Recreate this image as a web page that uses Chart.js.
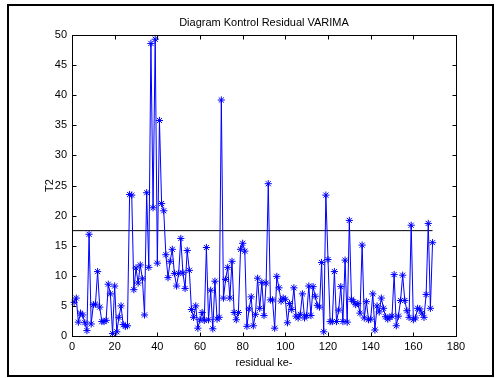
<!DOCTYPE html>
<html><head><meta charset="utf-8">
<script src="https://cdn.jsdelivr.net/npm/chart.js@4.4.1/dist/chart.umd.min.js"></script>
<style>html,body{margin:0;padding:0;background:#fff;}#wrap{width:496px;height:378px;}</style>
</head><body><div id="wrap"><canvas id="c" width="496" height="378"></canvas></div>
<script>
// T2 statistic for residual 1..169
const t2Values = [
  5.6, 6.3, 2.3, 3.8, 3.5, 2.2, 0.9, 16.9, 2.0, 5.2,
  5.3, 10.7, 4.8, 2.4, 2.4, 2.6, 8.6, 7.0, 0.4, 8.3,
  0.7, 3.1, 5.0, 1.9, 1.6, 1.7, 23.5, 23.4, 7.7, 11.3,
  8.8, 11.8, 9.5, 3.5, 23.8, 11.4, 48.6, 21.3, 49.3, 12.1,
  35.8, 22.0, 20.8, 13.5, 9.7, 12.4, 14.4, 10.4, 8.3, 10.4,
  16.2, 10.5, 7.9, 14.2, 10.9, 4.4, 3.1, 5.0, 1.3, 2.7,
  3.9, 2.6, 14.7, 2.7, 7.6, 1.2, 9.1, 2.8, 3.1, 39.2,
  6.3, 9.4, 11.4, 6.3, 12.4, 3.9, 2.7, 3.9, 14.4, 15.4,
  14.1, 1.6, 4.5, 6.5, 1.7, 3.6, 9.6, 4.6, 8.9, 3.4,
  8.8, 25.3, 6.0, 6.0, 1.3, 9.9, 8.0, 5.8, 6.3, 6.1,
  2.2, 5.4, 4.4, 8.0, 3.3, 3.0, 3.6, 7.0, 3.0, 3.4,
  8.3, 3.4, 8.2, 6.6, 5.1, 4.8, 12.2, 0.7, 23.4, 12.7,
  2.4, 2.4, 10.7, 2.4, 4.3, 8.2, 2.4, 12.6, 2.3, 19.2,
  6.1, 5.7, 5.2, 5.4, 3.8, 15.1, 3.0, 5.7, 2.7, 2.8,
  7.0, 1.0, 5.0, 4.0, 6.3, 4.6, 3.2, 2.8, 3.1, 3.3,
  10.2, 1.7, 3.3, 5.9, 10.1, 5.9, 4.2, 3.1, 18.4, 2.7,
  3.0, 4.6, 4.5, 3.8, 3.1, 6.9, 18.7, 4.6, 15.5
];
const residualStart = 1;
const uclValue = 17.5;
const uclRange = [0, 169];
const xTickValues = [0, 20, 40, 60, 80, 100, 120, 140, 160, 180];
const yTickValues = [0, 5, 10, 15, 20, 25, 30, 35, 40, 45, 50];

const FONT = 'Liberation Sans, Arial, Helvetica, sans-serif';

const t2Points = t2Values.map((v, i) => ({x: residualStart + i, y: v}));
const uclPoints = uclRange.map(x => ({x: x, y: uclValue}));

const framePlugin = {
  id: 'frame',
  beforeDraw(chart) {
    const ctx = chart.ctx;
    ctx.save();
    ctx.fillStyle = '#fff';
    ctx.fillRect(0, 0, chart.width, chart.height);
    ctx.restore();
  },
  afterDatasetsDraw(chart) {
    const {ctx, chartArea: a, scales} = chart;
    const xs = scales.x, ys = scales.y;
    ctx.save();
    ctx.strokeStyle = '#000';
    ctx.lineWidth = 1;
    const L = Math.round(a.left) + 0.5, R = Math.round(a.right) + 0.5;
    const T = Math.round(a.top) + 0.5, B = Math.round(a.bottom) + 0.5;
    ctx.strokeRect(L, T, R - L, B - T);
    const tl = 4;
    ctx.beginPath();
    xTickValues.forEach(v => {
      const px = Math.round(xs.getPixelForValue(v)) + 0.5;
      ctx.moveTo(px, B); ctx.lineTo(px, B - tl);
      ctx.moveTo(px, T); ctx.lineTo(px, T + tl);
    });
    yTickValues.forEach(v => {
      const py = Math.round(ys.getPixelForValue(v)) + 0.5;
      ctx.moveTo(L, py); ctx.lineTo(L + tl, py);
      ctx.moveTo(R, py); ctx.lineTo(R - tl, py);
    });
    ctx.stroke();
    // outer figure frame
    ctx.lineWidth = 2;
    ctx.strokeRect(8, 5, 485, 371);
    ctx.restore();
  }
};

new Chart(document.getElementById('c'), {
  type: 'scatter',
  data: {
    datasets: [
      {
        label: 'T2',
        data: t2Points,
        showLine: true,
        borderColor: '#0000ff',
        borderWidth: 1,
        tension: 0,
        pointStyle: 'star',
        pointRadius: 3.6,
        pointBorderColor: '#0000ff',
        pointBorderWidth: 1,
        pointBackgroundColor: '#0000ff',
        clip: false,
        order: 1
      },
      {
        label: 'BKA',
        data: uclPoints,
        showLine: true,
        borderColor: '#000000',
        borderWidth: 1,
        pointRadius: 0,
        clip: false,
        order: 2
      }
    ]
  },
  options: {
    responsive: false,
    animation: false,
    devicePixelRatio: 1,
    layout: {padding: {left: 0, right: 40, top: 0, bottom: 0}},
    plugins: {
      legend: {display: false},
      tooltip: {enabled: false},
      title: {
        display: true,
        fullSize: false,
        text: 'Diagram Kontrol Residual VARIMA',
        color: '#000',
        font: {family: FONT, size: 11, weight: 'normal', lineHeight: 1.2},
        padding: {top: 16, bottom: 5.8}
      }
    },
    scales: {
      x: {
        type: 'linear',
        min: 0, max: 180,
        afterBuildTicks: s => { s.ticks = xTickValues.map(v => ({value: v})); },
        afterFit: s => { s.height = 42; },
        grid: {display: false, drawTicks: false},
        border: {display: false},
        ticks: {color: '#000', padding: 4.4, font: {family: FONT, size: 11, lineHeight: 1.2}},
        title: {
          display: true, text: 'residual ke-', color: '#000',
          font: {family: FONT, size: 11, lineHeight: 1.2},
          padding: {top: 0, bottom: 8.4}
        }
      },
      y: {
        type: 'linear',
        min: 0, max: 50,
        afterBuildTicks: s => { s.ticks = yTickValues.map(v => ({value: v})); },
        afterFit: s => { s.width = 72; },
        grid: {display: false, drawTicks: false},
        border: {display: false},
        ticks: {color: '#000', padding: 5, font: {family: FONT, size: 11, lineHeight: 1.2}},
        title: {
          display: true, text: 'T2', color: '#000',
          font: {family: FONT, size: 11, lineHeight: 1.2},
          padding: {top: 43.4, bottom: 0}
        }
      }
    }
  },
  plugins: [framePlugin]
});
</script>
</body></html>
